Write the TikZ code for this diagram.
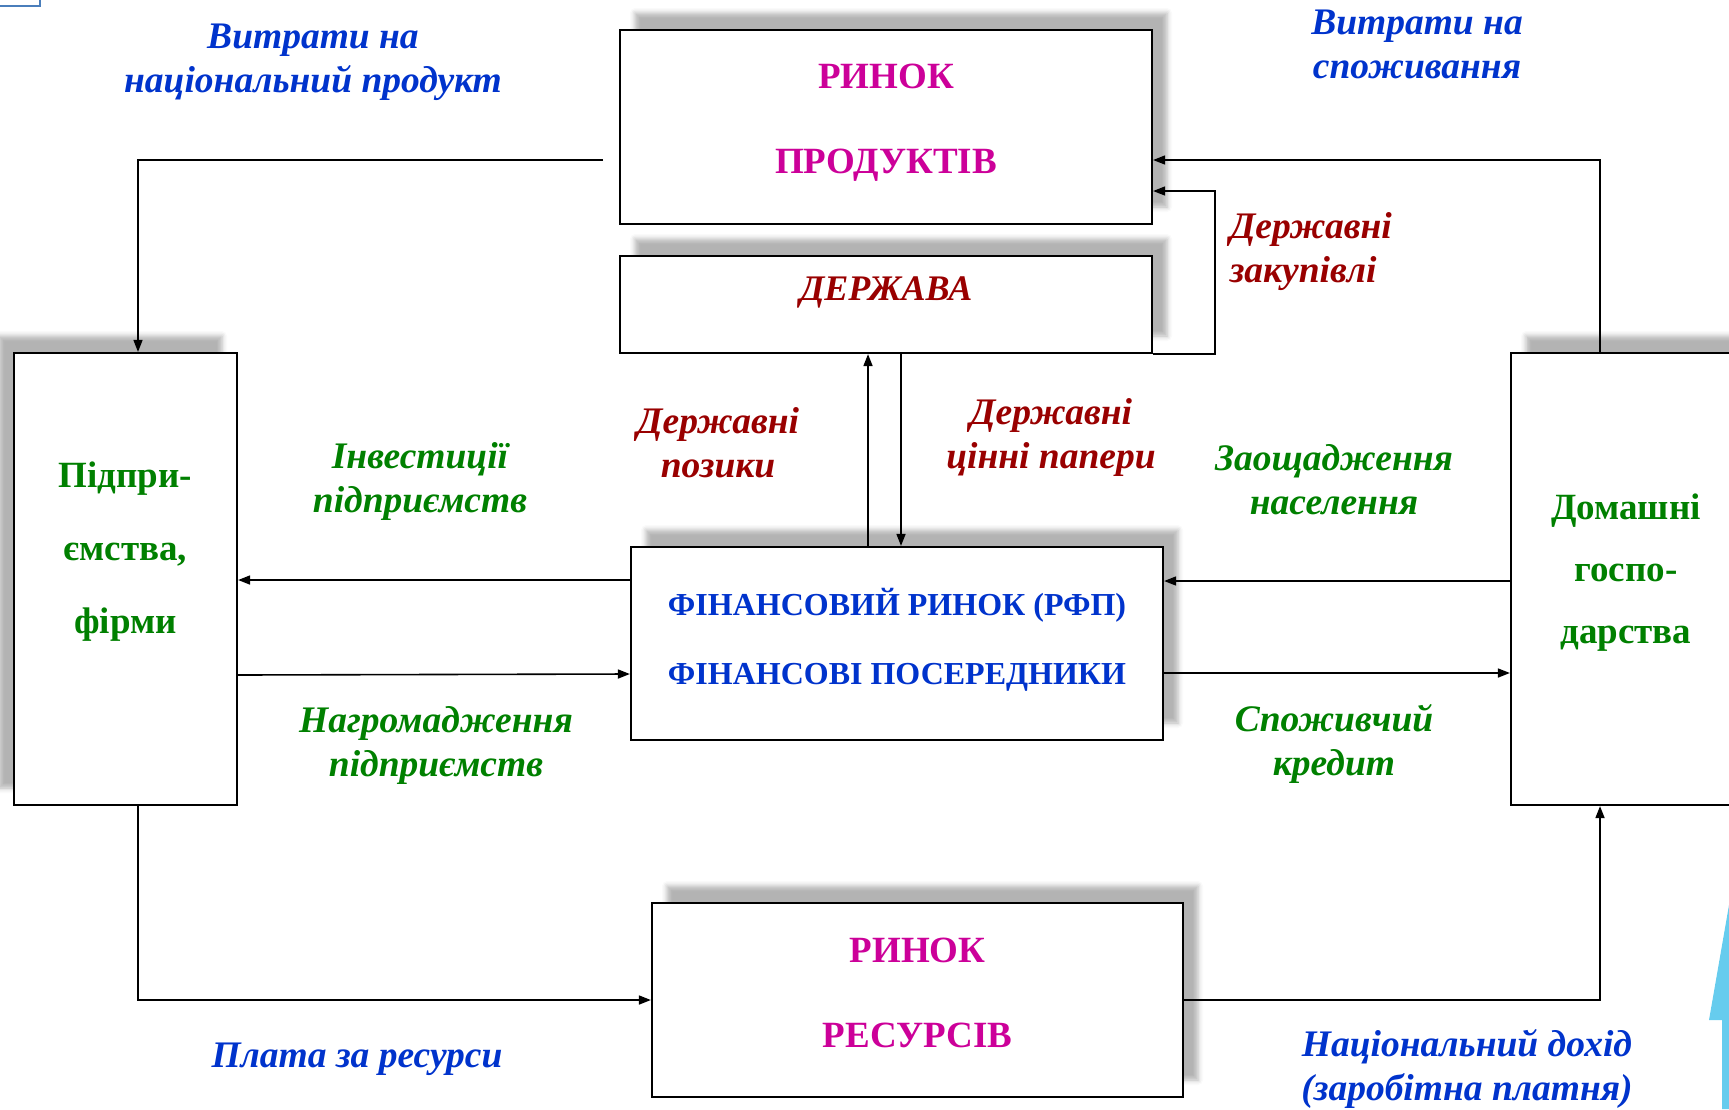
\documentclass[tikz,border=0pt]{standalone}
\usepackage{fontspec}
\setmainfont{Liberation Serif}
\usetikzlibrary{arrows.meta}
\usetikzlibrary{shadows.blur}

\definecolor{flowblue}{RGB}{0,51,204}
\definecolor{marketpink}{RGB}{204,0,153}
\definecolor{statered}{RGB}{153,0,0}
\definecolor{agentgreen}{RGB}{0,128,0}
\definecolor{slidecyan}{RGB}{102,204,238}
\definecolor{slideframe}{RGB}{74,126,187}

\newcommand{\liftby}[1]{\rule[-#1]{0pt}{0pt}}

\begin{document}
\begin{tikzpicture}[x=1pt,y=-1pt,line width=1.6pt,>={Triangle[length=12pt,width=9pt]},
    box/.style={draw,line width=2.2pt,fill=white,align=center,inner sep=0pt},
    shadowright/.style={blur shadow={shadow xshift=15pt,shadow yshift=17pt,shadow blur radius=5pt,shadow opacity=30}},
    shadowleft/.style={blur shadow={shadow xshift=-15pt,shadow yshift=17pt,shadow blur radius=5pt,shadow opacity=30}},
    market/.style={text=marketpink,font=\bfseries\fontsize{37}{85}\selectfont},
    agent/.style={text=agentgreen,font=\bfseries\fontsize{37}{73}\selectfont},
    lbl/.style={font=\bfseries\itshape\fontsize{37.5}{44}\selectfont,align=center,inner sep=0pt}]
    \useasboundingbox (0,0) rectangle (1729,1109);
    \clip (0,0) rectangle (1729,1109);

    \draw[slideframe,line width=1.2pt] (-5,-5) rectangle (40,6);
    \fill[slidecyan] (1729,905) -- (1709,1020) -- (1722,1020) -- (1722,1109) -- (1729,1109) -- cycle;

    \node[box,shadowright,market,minimum width=532,minimum height=194] (product-market) at (886,127) {РИНОК\\ПРОДУКТІВ\liftby{17pt}};
    \node[box,shadowright,minimum width=532,minimum height=97] (state) at (886,304.5)
        {\raisebox{4pt}[0pt][0pt]{\textcolor{statered}{\bfseries\itshape\fontsize{36}{44}\selectfont ДЕРЖАВА}}};
    \node[box,shadowright,text=flowblue,font=\bfseries\fontsize{32}{69}\selectfont,minimum width=532,minimum height=193] (fin-market) at (897,643.5)
        {ФІНАНСОВИЙ РИНОК (РФП)\\ФІНАНСОВІ ПОСЕРЕДНИКИ\liftby{14pt}};
    \node[box,shadowright,market,minimum width=531,minimum height=194] (resource-market) at (917.5,1000) {РИНОК\\РЕСУРСІВ\liftby{15pt}};
    \node[box,shadowleft,agent,minimum width=223,minimum height=452] (firms) at (125.5,579) {Підпри-\\ємства,\\фірми\liftby{62pt}};
    \node[box,shadowright,agent,font=\bfseries\fontsize{37}{62}\selectfont,minimum width=230,minimum height=452] (households) at (1626,579) {Домашні\\госпо-\\дарства\liftby{20pt}};

    \node[lbl,text=flowblue] (spend-national) at (313,62) {Витрати на\\національний продукт};
    \node[lbl,text=flowblue] (spend-consumption) at (1417,44) {Витрати на\\споживання};
    \node[lbl,text=statered,align=left,anchor=west] (gov-purchases) at (1229,252) {Державні\\закупівлі};
    \node[lbl,text=statered] (gov-loans) at (718,443) {Державні\\позики};
    \node[lbl,text=statered] (gov-securities) at (1051,437) {Державні\\цінні папери};
    \node[lbl,text=agentgreen] (firm-investment) at (420,481) {Інвестиції\\підприємств};
    \node[lbl,text=agentgreen] (household-savings) at (1334,480) {Заощадження\\населення};
    \node[lbl,text=agentgreen] (firm-savings) at (436,745) {Нагромадження\\підприємств};
    \node[lbl,text=agentgreen] (consumer-credit) at (1334,744) {Споживчий\\кредит};
    \node[lbl,text=flowblue] (resource-payment) at (357,1059) {Плата за ресурси};
    \node[lbl,text=flowblue] (national-income) at (1467,1069) {Національний дохід\\(заробітна платня)};

    \coordinate (spend-start) at (603,160);
    \draw[->] (spend-start) -| ([xshift=12.5pt]firms.north);
    \draw[->] ([xshift=-26pt]households.north) |- ([yshift=-33pt]product-market.east);
    \draw[->] (state.south east) -- ++(62,0) |- ([yshift=-64pt]product-market.east);
    \draw[->] ([xshift=-29pt]fin-market.north) -- ([xshift=-18pt]state.south);
    \draw[->] ([xshift=15pt]state.south) -- ([xshift=4pt]fin-market.north);
    \draw[->] (fin-market.west |- 0,580) -- (firms.east |- 0,580);
    \draw[->] (firms.east |- 0,675) -- (fin-market.west |- 0,674);
    \draw[->] (households.west |- 0,581) -- (fin-market.east |- 0,581);
    \draw[->] (fin-market.east |- 0,673) -- (households.west |- 0,673);
    \draw[->] ([xshift=12.5pt]firms.south) |- (resource-market.west);
    \draw[->] (resource-market.east) -| ([xshift=-26pt]households.south);
\end{tikzpicture}
\end{document}
